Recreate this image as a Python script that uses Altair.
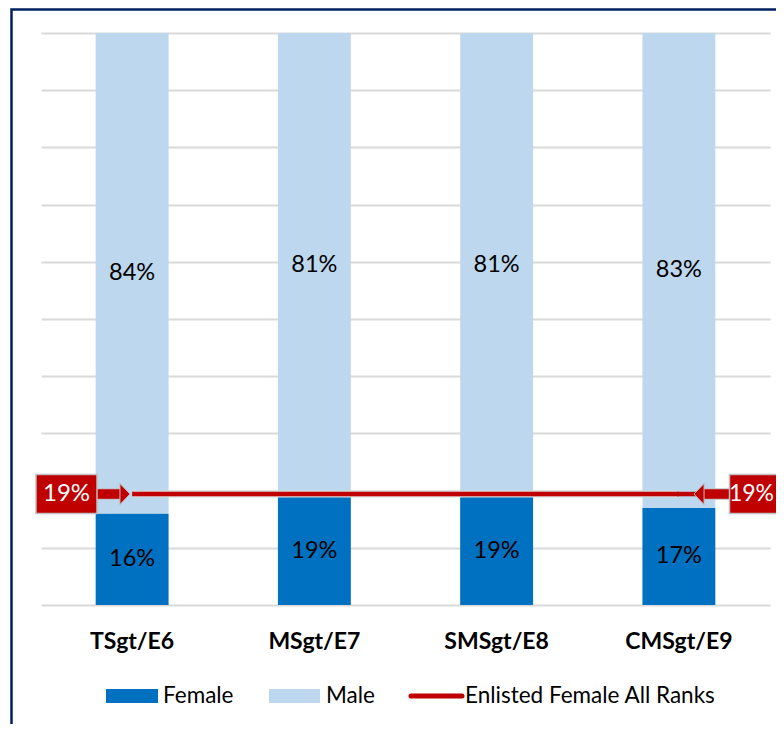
import altair as alt
import pandas as pd

# ---- data ----
RANKS = ["TSgt/E6", "MSgt/E7", "SMSgt/E8", "CMSgt/E9"]
FEMALE = [16, 19, 19, 17]
MALE = [84, 81, 81, 83]
GENDERS = ["Female", "Male"]
GENDER_COLORS = ["#0070C0", "#BDD7EE"]
LINE_NAME = "Enlisted Female All Ranks"
ALL_RANKS_VALUE = 19.4
ALL_RANKS_LABEL = "19%"
GRID_TICKS = [0, 10, 20, 30, 40, 50, 60, 70, 80, 90, 100]

RED = "#C00000"
FONT = "Lato"

rows = []
for r, f, m in zip(RANKS, FEMALE, MALE):
    rows.append({"rank": r, "gender": "Female", "value": f, "order": 0})
    rows.append({"rank": r, "gender": "Male", "value": m, "order": 1})
bars_df = pd.DataFrame(rows)
line_df = pd.DataFrame({"rank": RANKS, "value": [ALL_RANKS_VALUE] * len(RANKS), "series": LINE_NAME})
callout_df = pd.DataFrame({"value": [ALL_RANKS_VALUE], "label": [ALL_RANKS_LABEL]})

X = alt.X(
    "rank:N",
    sort=RANKS,
    scale=alt.Scale(domain=RANKS, paddingInner=0.6, paddingOuter=0.3),
    axis=alt.Axis(title=None, labelAngle=0, labelFont=FONT, labelFontWeight="bold",
                  labelFontSize=23, labelColor="black", ticks=False, domain=False,
                  labelPadding=25, grid=False),
)
Y_SCALE = alt.Scale(domain=[0, 100], nice=False)

bars = alt.Chart(bars_df).mark_bar().encode(
    x=X,
    y=alt.Y("value:Q", stack="zero", scale=Y_SCALE,
            axis=alt.Axis(values=GRID_TICKS, labels=False, ticks=False, domain=False,
                          title=None, grid=True, gridColor="#d9d9d9", gridWidth=2)),
    color=alt.Color("gender:N", scale=alt.Scale(domain=GENDERS, range=GENDER_COLORS), legend=None),
    order=alt.Order("order:Q"),
)

labels = alt.Chart(bars_df).transform_stack(
    stack="value", groupby=["rank"], as_=["y0", "y1"],
    sort=[alt.SortField("order", order="ascending")],
).transform_calculate(
    mid="(datum.y0 + datum.y1) / 2", txt="datum.value + '%'"
).mark_text(font=FONT, fontSize=23.5, color="black", baseline="middle").encode(
    x=X, y=alt.Y("mid:Q", scale=Y_SCALE), text="txt:N"
)

line_glow = alt.Chart(line_df).mark_line(color="#d9d9d9", strokeWidth=7).encode(
    x=X, y=alt.Y("value:Q", scale=Y_SCALE))
line = alt.Chart(line_df).mark_line(color=RED, strokeWidth=4.5).encode(
    x=X, y=alt.Y("value:Q", scale=Y_SCALE))

YC = alt.Y("value:Q", scale=Y_SCALE)

def rule(x1, x2, width, color):
    return alt.Chart(callout_df).mark_rule(color=color, strokeWidth=width, strokeCap="butt").encode(
        x=alt.value(x1), x2=alt.value(x2), y=YC)

box_shape = "M-1,-0.64H1V0.64H-1Z"
def box(xc):
    return alt.Chart(callout_df).mark_point(shape=box_shape, filled=True, fill=RED, stroke="#bfbfbf",
                                            strokeWidth=1.5, size=61 * 61, opacity=1).encode(
        x=alt.value(xc), y=YC)

def head(xc, shape):
    return alt.Chart(callout_df).mark_point(shape=shape, filled=True, fill=RED, stroke="#bfbfbf",
                                            strokeWidth=1, size=441, opacity=1).encode(
        x=alt.value(xc), y=YC)

def box_text(xc, fs=24):
    return alt.Chart(callout_df).mark_text(font=FONT, fontSize=fs, color="white", baseline="middle").encode(
        x=alt.value(xc), y=YC, text="label:N")

# left callout
left_parts = [
    rule(56, 80, 11.5, "#bfbfbf"), rule(56, 80, 9.5, RED),
    head(84, "M-0.48,-1L0.48,0L-0.48,1Z"),
    box(25.5), box_text(25.5),
]
# right callout
right_parts = [
    rule(636, 656, 4.5, RED),
    rule(661, 690, 11.5, "#bfbfbf"), rule(661, 690, 9.5, RED),
    head(658, "M0.48,-1L-0.48,0L0.48,1Z"),
    box(719), box_text(710.5, 23),
]

# legend (decoration)
LY = 663
LFS = 22.5
legend_parts = [
    alt.Chart(callout_df).mark_rect(color=GENDER_COLORS[0]).encode(
        x=alt.value(65), x2=alt.value(117), y=alt.value(LY - 7), y2=alt.value(LY + 7)),
    alt.Chart(callout_df).mark_text(text=GENDERS[0], font=FONT, fontSize=LFS, align="left",
                                    baseline="middle", color="black").encode(x=alt.value(122), y=alt.value(LY)),
    alt.Chart(callout_df).mark_rect(color=GENDER_COLORS[1]).encode(
        x=alt.value(228), x2=alt.value(279), y=alt.value(LY - 7), y2=alt.value(LY + 7)),
    alt.Chart(callout_df).mark_text(text=GENDERS[1], font=FONT, fontSize=LFS, align="left",
                                    baseline="middle", color="black").encode(x=alt.value(285), y=alt.value(LY)),
    alt.Chart(callout_df).mark_rule(color=RED, strokeWidth=5, strokeCap="round").encode(
        x=alt.value(370), x2=alt.value(421), y=alt.value(LY)),
    alt.Chart(callout_df).mark_text(text=LINE_NAME, font=FONT, fontSize=LFS, align="left",
                                    baseline="middle", color="black").encode(x=alt.value(424), y=alt.value(LY)),
]

border = alt.Chart(callout_df).mark_rect(filled=False, stroke="#002060", strokeWidth=2.5).encode(
    x=alt.value(-29.5), x2=alt.value(900), y=alt.value(-23.5), y2=alt.value(900))

chart = alt.layer(
    bars, labels, line_glow, line, *left_parts, *right_parts, *legend_parts, border
).properties(
    width=729, height=572,
    autosize=alt.AutoSizeParams(type="none"),
    padding={"left": 33, "top": 25, "right": 6, "bottom": 119},
    background="white",
).configure_view(strokeWidth=0)

chart.save("out.html", embed_options={"renderer": "svg", "actions": False})
